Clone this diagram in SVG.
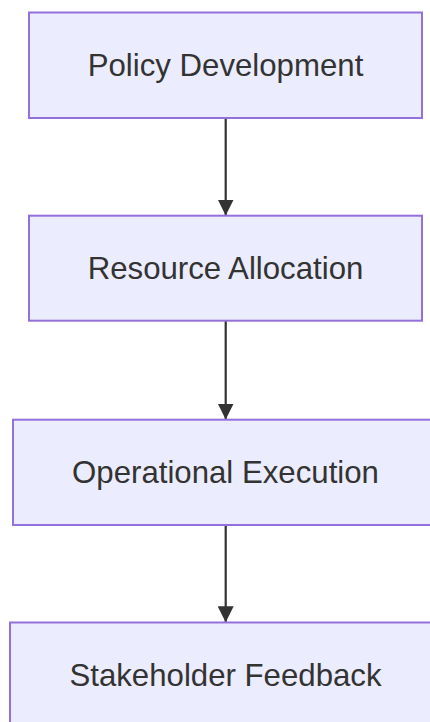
<svg xmlns="http://www.w3.org/2000/svg" width="430" height="722" viewBox="0 0 430 722">
<defs>
<style>
.node rect{fill:#ECECFF;stroke:#9370DB;stroke-width:2}
.node text{font-family:"Liberation Sans",Arial,sans-serif;font-size:31.2px;fill:#333333;text-anchor:middle;dominant-baseline:central}
.edge{stroke:#333333;stroke-width:2.2;fill:none}
</style>
<marker id="ah" viewBox="0 0 16 16" refX="16" refY="8" markerWidth="16" markerHeight="16" markerUnits="userSpaceOnUse" orient="auto">
<path d="M0,0 L16,8 L0,16 z" fill="#333333"/>
</marker>
</defs>
<g id="connectors">
<path class="edge" d="M225.7,118 L225.7,215.5" marker-end="url(#ah)"/>
<path class="edge" d="M225.7,320.7 L225.7,419.5" marker-end="url(#ah)"/>
<path class="edge" d="M225.7,525 L225.7,622.3" marker-end="url(#ah)"/>
</g>
<g id="policy" class="node">
<rect x="29" y="12.5" width="393" height="105.5"/>
<text x="225.5" y="65.3">Policy Development</text>
</g>
<g id="resource" class="node">
<rect x="29" y="215.7" width="393" height="105"/>
<text x="225.5" y="268.2">Resource Allocation</text>
</g>
<g id="operational" class="node">
<rect x="13" y="419.7" width="426" height="105.3"/>
<text x="225.5" y="472.4">Operational Execution</text>
</g>
<g id="stakeholder" class="node">
<rect x="10" y="622.5" width="432" height="105.5"/>
<text x="225.5" y="675">Stakeholder Feedback</text>
</g>
</svg>
